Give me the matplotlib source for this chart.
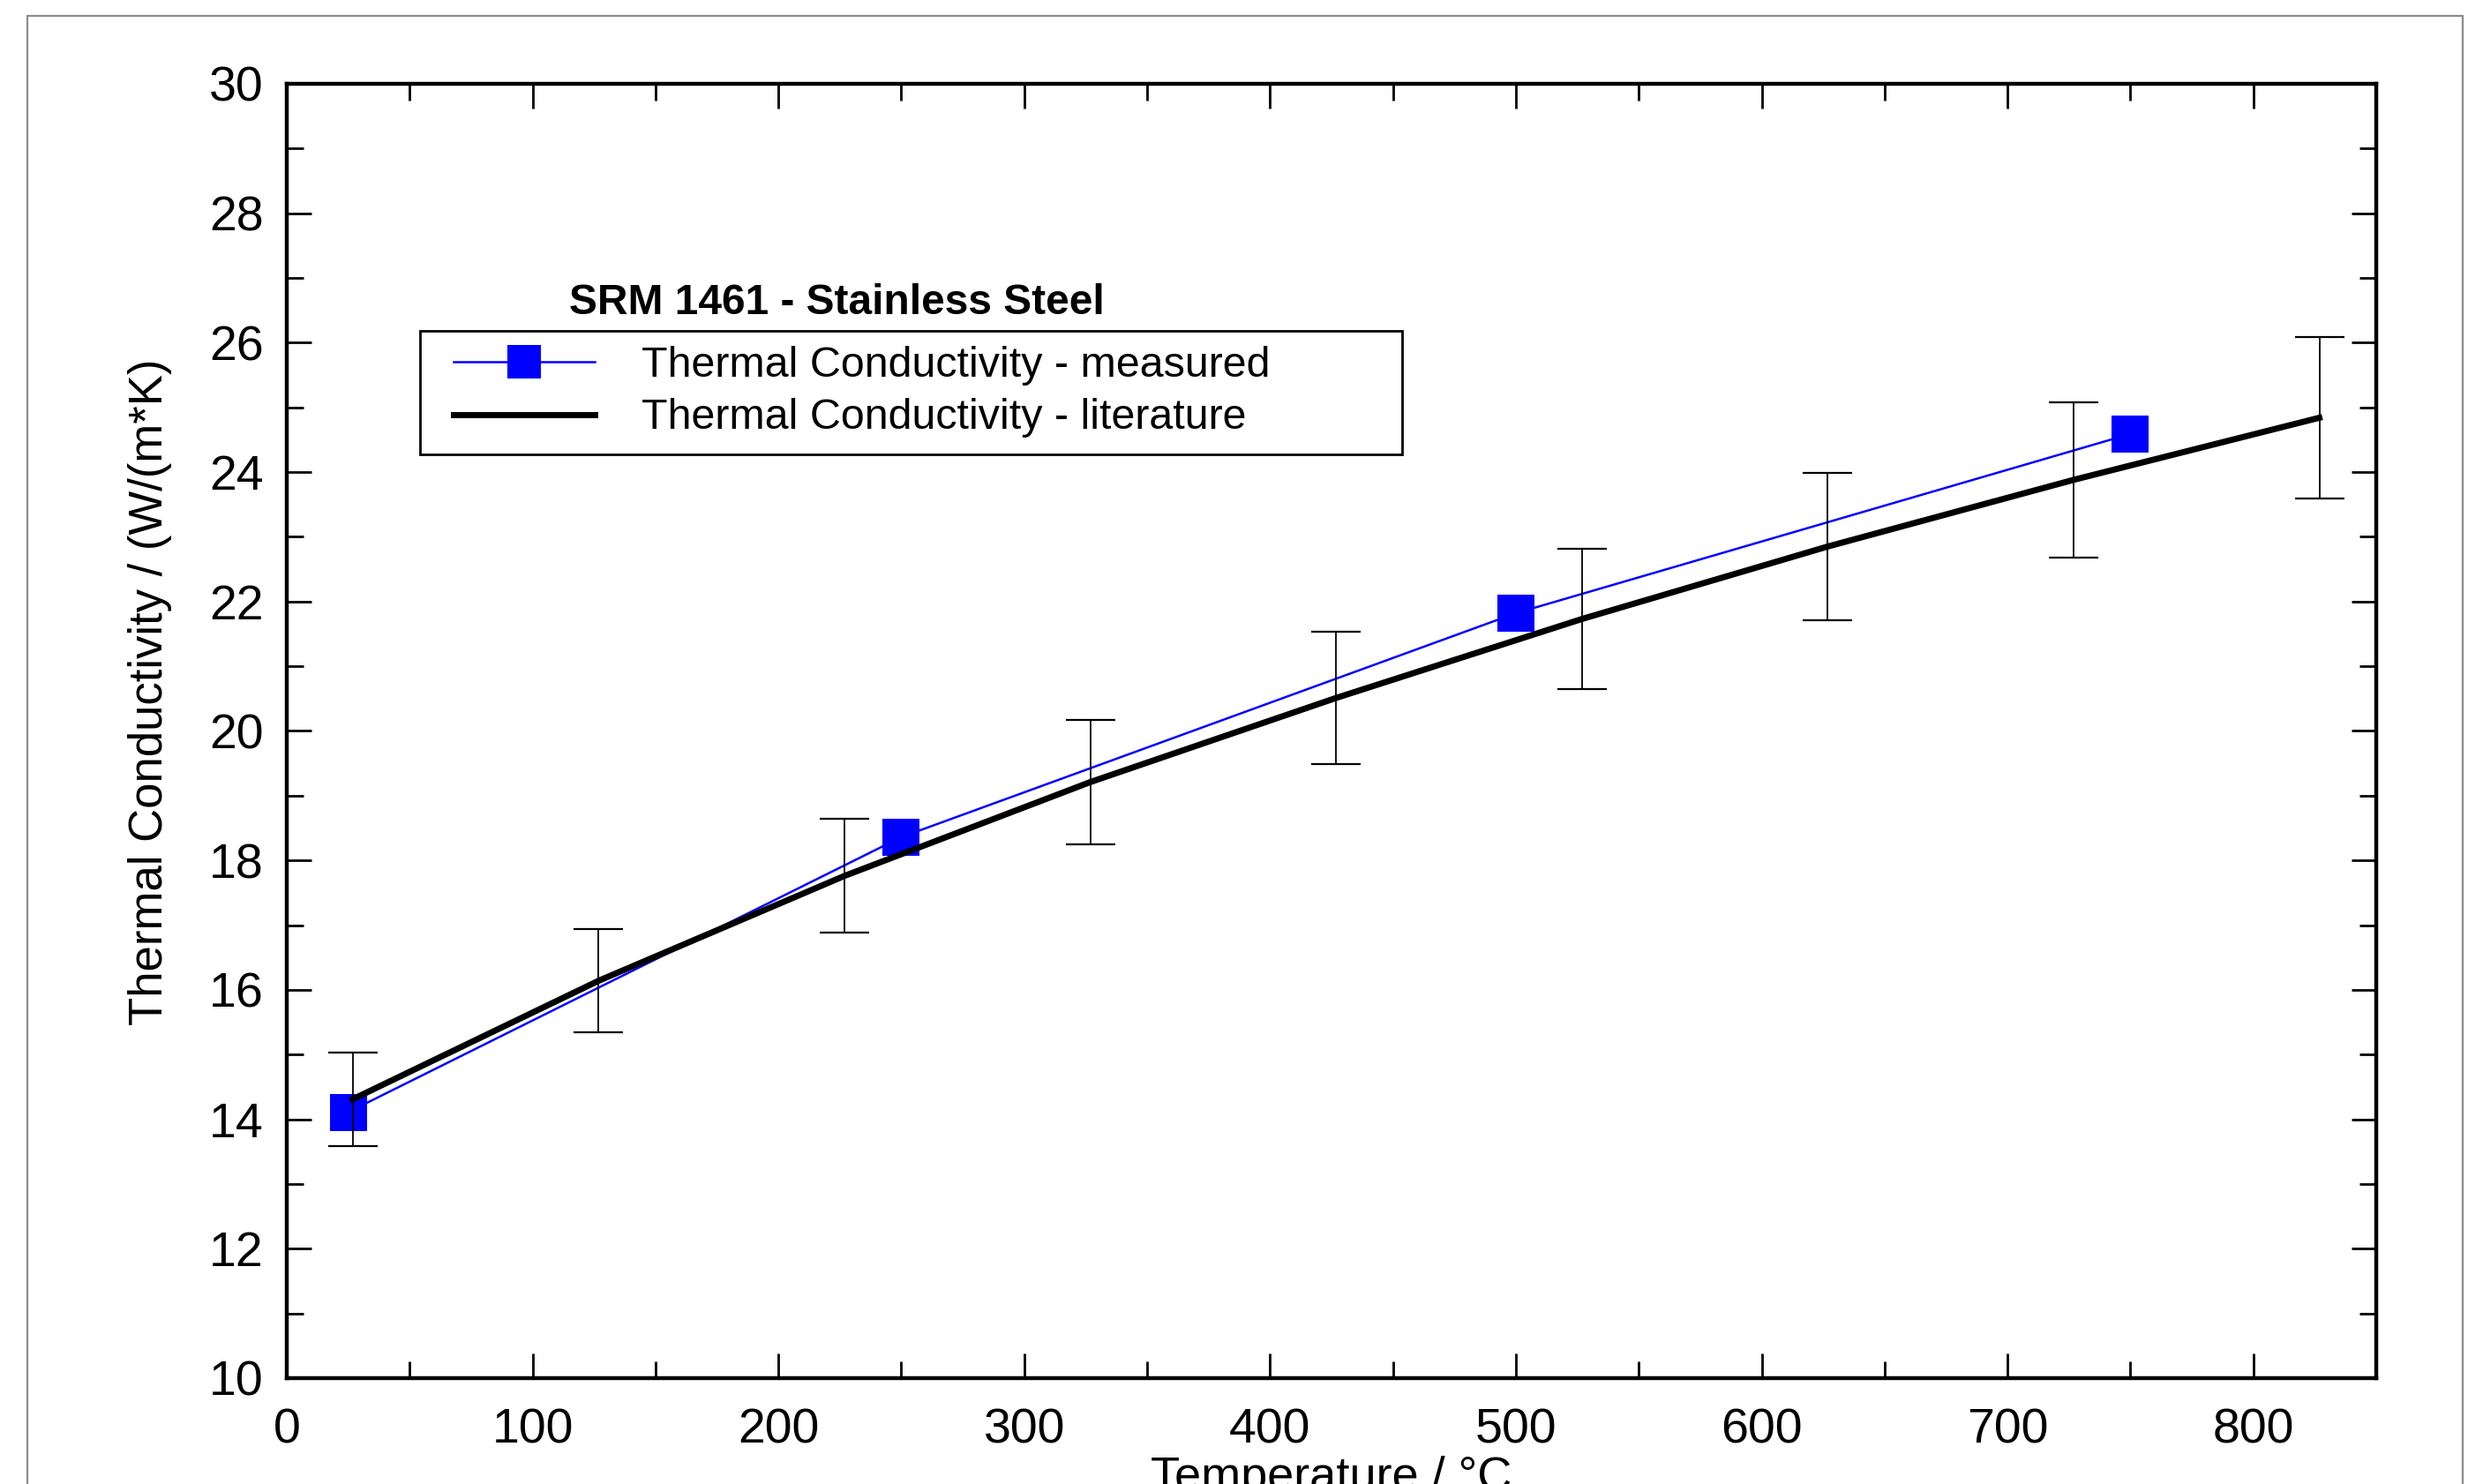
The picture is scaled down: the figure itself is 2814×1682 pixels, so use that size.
import numpy as np
import matplotlib
matplotlib.use("Agg")
import matplotlib.pyplot as plt
from matplotlib.patches import Rectangle
from matplotlib.ticker import MultipleLocator

# =============================================================================
# DATA
# =============================================================================

meas_temp = [25, 250, 500, 750]
meas_k = [14.11, 18.36, 21.82, 24.59]

lit_temp = [26.85, 126.85, 226.85, 326.85, 426.85, 526.85, 626.85, 726.85, 826.85]
lit_k = [14.31, 16.14, 17.76, 19.21, 20.51, 21.73, 22.85, 23.88, 24.84]
lit_err = [0.72, 0.80, 0.88, 0.96, 1.02, 1.08, 1.14, 1.20, 1.25]

title = "SRM 1461 - Stainless Steel"
label_meas = "Thermal Conductivity - measured"
label_lit = "Thermal Conductivity - literature"

# =============================================================================
# FIGURE
# =============================================================================

plt.rcParams['font.family'] = ['Liberation Sans', 'DejaVu Sans']
W, H = 2814, 1682
fig = plt.figure(figsize=(W / 100, H / 100), dpi=100)

# grey outer frame (runs off the bottom of the picture)
fig.add_artist(Rectangle((31 / W, -0.2), (2791 - 31) / W, 1.2 - 18 / H,
                         transform=fig.transFigure, fill=False,
                         edgecolor='#8c8c8c', linewidth=1.6, clip_on=False))

ax = fig.add_axes([325 / W, 1 - 1562 / H, (2693 - 325) / W, (1562 - 95) / H])

ax.plot(meas_temp, meas_k, color='#0000ff', linewidth=1.8, marker='s',
        markersize=30, markeredgewidth=0, label=label_meas, zorder=3)
ax.plot(lit_temp, lit_k, color='black', linewidth=5.0, label=label_lit,
        zorder=4)
ax.errorbar(lit_temp, lit_k, yerr=lit_err, fmt='none', ecolor='black',
            elinewidth=1.3, capsize=20, capthick=1.6, zorder=5)

ax.set_xlim(0, 850)
ax.set_ylim(10, 30)
ax.xaxis.set_major_locator(MultipleLocator(100))
ax.xaxis.set_minor_locator(MultipleLocator(50))
ax.yaxis.set_major_locator(MultipleLocator(2))
ax.yaxis.set_minor_locator(MultipleLocator(1))
ax.set_xticks([0, 100, 200, 300, 400, 500, 600, 700, 800])

ax.tick_params(which='both', direction='in', top=True, right=True,
               labelsize=40, colors='black')
ax.tick_params(which='major', length=20, width=2.0)
ax.tick_params(which='minor', length=14, width=2.0)
ax.tick_params(axis='x', which='major', pad=24)
ax.tick_params(axis='y', which='major', pad=19)
for s in ax.spines.values():
    s.set_linewidth(3.2)

ax.set_xlabel("Temperature / °C", fontsize=39, labelpad=2)
ax.set_ylabel("Thermal Conductivity / (W/(m*K)", fontsize=38)
ax.yaxis.set_label_coords(-0.055, 0.53)

# legend with title above the box
fig.text(948 / W, 1 - 344 / H, title, fontsize=34.5, fontweight='bold',
         ha='center', va='center')
fig.add_artist(Rectangle((476 / W, 1 - 515 / H), (1589 - 476) / W,
                         (515 - 375) / H, transform=fig.transFigure,
                         fill=False, edgecolor='black', linewidth=2.0))
leg = ax.legend(loc='upper left', bbox_to_anchor=(514 / W, 1 - 392 / H),
                bbox_transform=fig.transFigure, frameon=False, fontsize=34.8,
                handlelength=3.3, handletextpad=1.1, labelspacing=0.3,
                numpoints=1, borderaxespad=0, borderpad=0)
for h in leg.legend_handles:
    if h.get_marker() == 's':
        h.set_markersize(28)

fig.savefig("out.png", dpi=100)
